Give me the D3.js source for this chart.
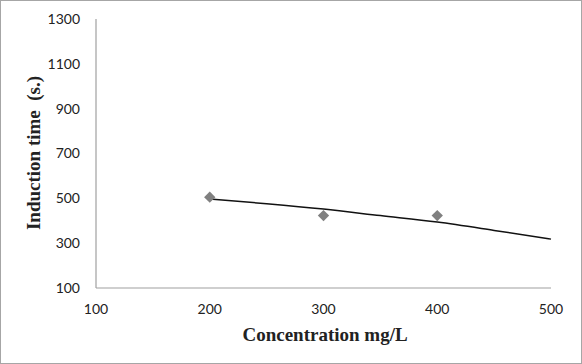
<!DOCTYPE html>
<html lang="en">
<head>
    <meta charset="utf-8">
    <title>Induction time</title>
    <script src="https://cdn.jsdelivr.net/npm/d3@7"></script>
</head>
<style>
    body {
        margin: 0;
        padding: 0;
        background-color: #fff;
    }
    .tick-label {
        font-family: Lato, "Open Sans", sans-serif;
        font-size: 14px;
        fill: #222;
    }
    .axis-title {
        font-family: "Liberation Serif", "Times New Roman", serif;
        font-weight: bold;
        font-size: 19px;
        fill: #222;
    }
</style>
<body>
    <svg width="582" height="364" id="chart"></svg>

    <script>
        // measured points
        var concentration = [200, 300, 400];
        var inductionTime = [505, 423, 423];

        // trend line
        var trendX = [200, 250, 300, 350, 400, 450, 500];
        var trendY = [497, 476, 452, 423, 394, 357, 318];

        var xTicks = [100, 200, 300, 400, 500];
        var yTicks = [100, 300, 500, 700, 900, 1100, 1300];

        var svg = d3.select("#chart");

        svg.append("rect")
            .attr("x", 0.5).attr("y", 0.5)
            .attr("width", 581).attr("height", 363)
            .attr("fill", "#fff")
            .attr("stroke", "#a6a6a6");

        var x = d3.scaleLinear().domain([100, 500]).range([96, 551]);
        var y = d3.scaleLinear().domain([100, 1300]).range([288, 19]);

        // axes lines
        svg.append("line")
            .attr("x1", x(100)).attr("x2", x(100))
            .attr("y1", y(1300)).attr("y2", y(100))
            .attr("stroke", "#a0a0a0").attr("stroke-width", 1.2);
        svg.append("line")
            .attr("x1", x(100)).attr("x2", x(500))
            .attr("y1", y(100)).attr("y2", y(100))
            .attr("stroke", "#a0a0a0").attr("stroke-width", 1.2);

        svg.selectAll(".ytick")
            .data(yTicks)
            .enter().append("text")
            .attr("class", "tick-label")
            .attr("x", 80)
            .attr("y", function(d) { return y(d); })
            .attr("dy", "0.35em")
            .attr("text-anchor", "end")
            .text(function(d) { return d; });

        svg.selectAll(".xtick")
            .data(xTicks)
            .enter().append("text")
            .attr("class", "tick-label")
            .attr("x", function(d) { return x(d); })
            .attr("y", 314)
            .attr("text-anchor", "middle")
            .text(function(d) { return d; });

        // trend line
        var trend = trendX.map(function(d, i) { return [d, trendY[i]]; });
        svg.append("path")
            .datum(trend)
            .attr("fill", "none")
            .attr("stroke", "#111")
            .attr("stroke-width", 1.5)
            .attr("d", d3.line()
                .x(function(d) { return x(d[0]); })
                .y(function(d) { return y(d[1]); })
                .curve(d3.curveMonotoneX));

        // diamonds
        var diamond = d3.symbol().type(d3.symbolSquare).size(64);
        svg.selectAll(".pt")
            .data(concentration)
            .enter().append("path")
            .attr("d", diamond)
            .attr("transform", function(d, i) {
                return "translate(" + x(d) + "," + y(inductionTime[i]) + ") rotate(45)";
            })
            .attr("fill", "#808080");

        svg.append("text")
            .attr("class", "axis-title")
            .attr("x", 325)
            .attr("y", 341)
            .attr("text-anchor", "middle")
            .text("Concentration mg/L");

        svg.append("text")
            .attr("class", "axis-title")
            .attr("transform", "translate(40,153) rotate(-90)")
            .attr("text-anchor", "middle")
            .attr("xml:space", "preserve")
            .style("white-space", "pre")
            .text("Induction time  (s.)");
    </script>
</body>
</html>
